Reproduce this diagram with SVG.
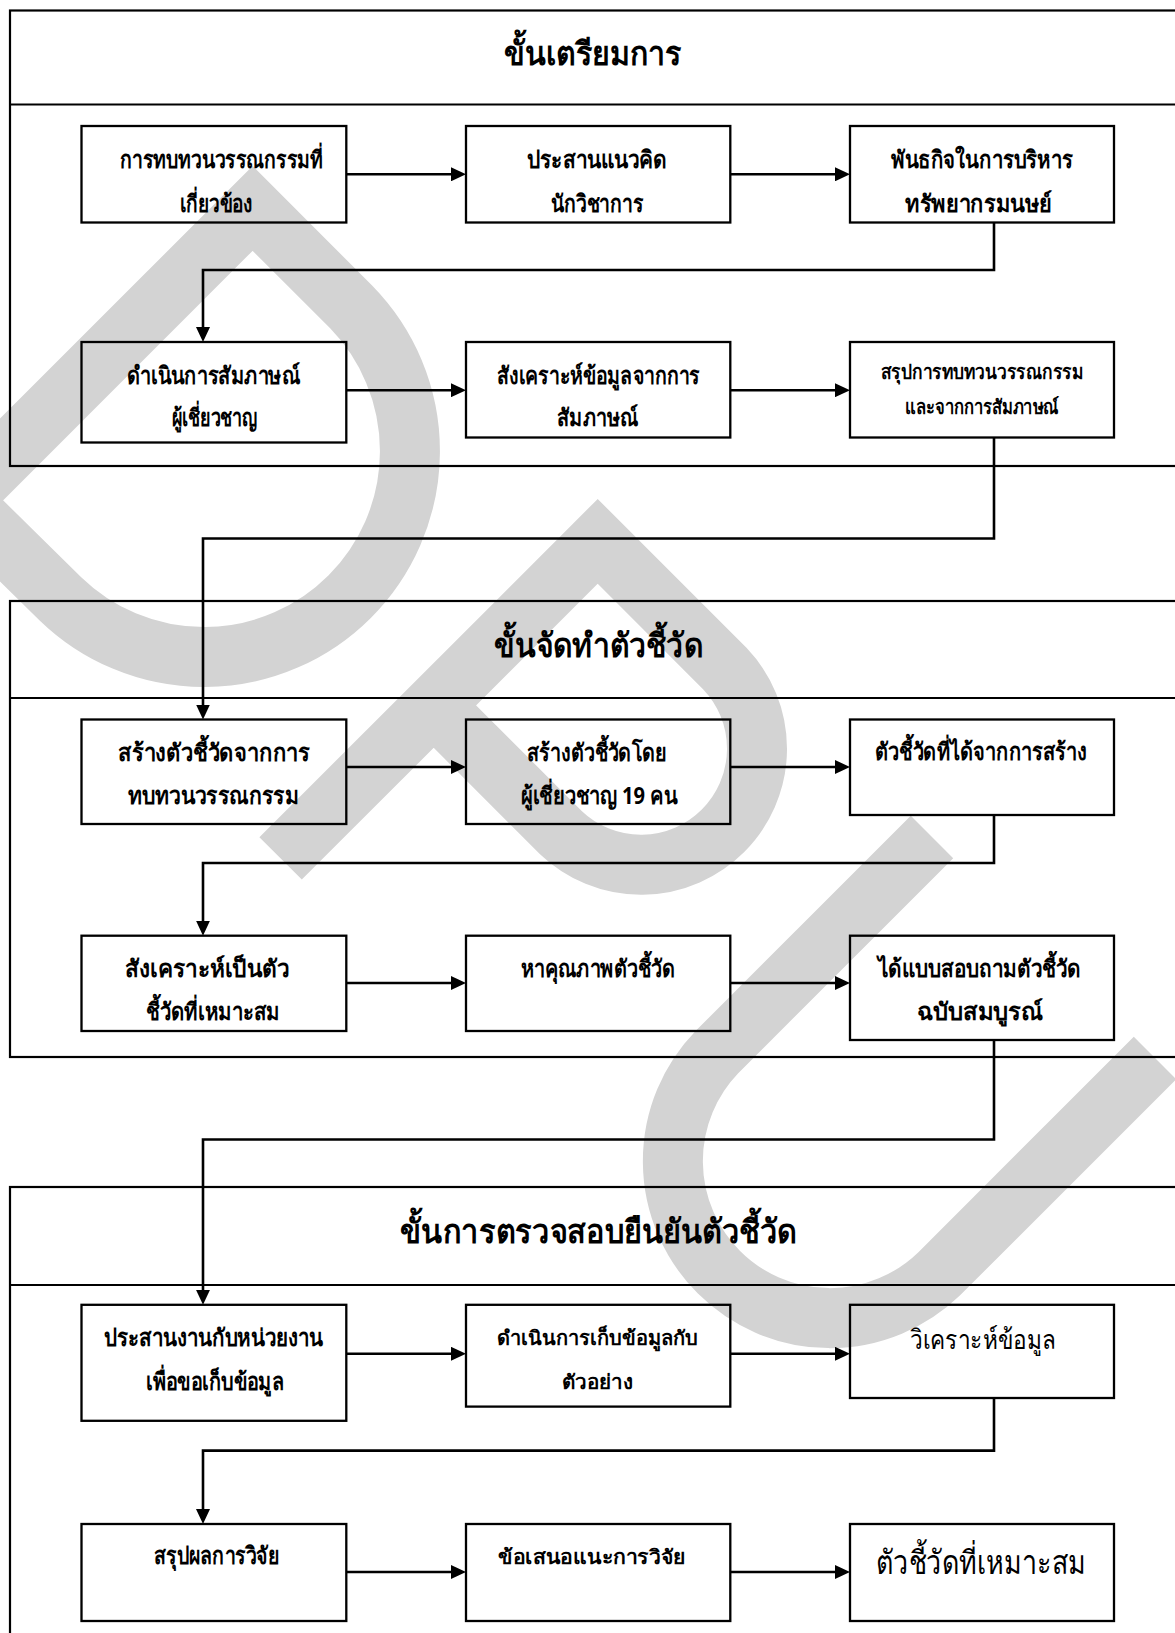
<svg xmlns="http://www.w3.org/2000/svg" width="1175" height="1633" viewBox="0 0 1175 1633">
<defs>
<style>
.wm{fill:none;stroke:#d3d3d3;stroke-width:60;stroke-linejoin:miter;stroke-miterlimit:10;stroke-linecap:butt}
.frame{fill:none;stroke:#000;stroke-width:2.2}
.box{fill:none;stroke:#000;stroke-width:2.3}
.conn{fill:none;stroke:#000;stroke-width:2.6}
.t{font-family:'Noto Sans','DejaVu Sans',sans-serif;font-weight:bold;font-size:24px;text-anchor:middle;fill:#000}
.s{font-size:20px}
.title{font-family:'Noto Sans','DejaVu Sans',sans-serif;font-weight:bold;font-size:33px;text-anchor:middle;fill:#000}
.r{font-family:'Noto Sans','DejaVu Sans',sans-serif;font-weight:normal;text-anchor:middle;fill:#000}
</style>
<marker id="ah" markerWidth="15" markerHeight="14" refX="1" refY="7" orient="auto" markerUnits="userSpaceOnUse"><path d="M0,0 L15,7 L0,14 Z" fill="#000"/></marker>
</defs>
<rect width="1175" height="1633" fill="#fff"/>
<g id="watermark">
<path class="wm" d="M -39.5 500.5 L 252.6 208.4 L 351.6 307.4 A 206 206 0 0 1 60.3 598.7 Z"/>
<path class="wm" d="M 280.6 858.4 L 597.7 541.4 L 725 668.7 A 116 116 0 0 1 561 832.7 L 433.7 705.4"/>
<path class="wm" d="M 932 837 L 717 1052 A 157 157 0 0 0 939 1274 L 1155 1058"/>
</g>
<g id="section1">
<rect class="frame" x="10" y="10.5" width="1185" height="455.5"/>
<line class="frame" x1="10" y1="104.5" x2="1195" y2="104.5"/>
<text class="title" x="593" y="65" textLength="178" lengthAdjust="spacingAndGlyphs">ขั้นเตรียมการ</text>
</g>
<g id="section2">
<rect class="frame" x="10" y="601" width="1185" height="456"/>
<line class="frame" x1="10" y1="698" x2="1195" y2="698"/>
<text class="title" x="598.5" y="657" textLength="209" lengthAdjust="spacingAndGlyphs">ขั้นจัดทำตัวชี้วัด</text>
</g>
<g id="section3">
<rect class="frame" x="10" y="1187" width="1185" height="470"/>
<line class="frame" x1="10" y1="1285" x2="1195" y2="1285"/>
<text class="title" x="598.5" y="1243" textLength="397" lengthAdjust="spacingAndGlyphs">ขั้นการตรวจสอบยืนยันตัวชี้วัด</text>
</g>
<g id="connectors">
<path class="conn" d="M346.3 174.3 H452" marker-end="url(#ah)"/>
<path class="conn" d="M730.3 174.3 H836" marker-end="url(#ah)"/>
<path class="conn" d="M994 222.5 V270 H203 V328" marker-end="url(#ah)"/>
<path class="conn" d="M346.3 390.2 H452" marker-end="url(#ah)"/>
<path class="conn" d="M730.3 390.2 H836" marker-end="url(#ah)"/>
<path class="conn" d="M994 437.5 V538.5 H203 V705.5" marker-end="url(#ah)"/>
<path class="conn" d="M346.3 767 H452" marker-end="url(#ah)"/>
<path class="conn" d="M730.3 767 H836" marker-end="url(#ah)"/>
<path class="conn" d="M994 815 V863 H203 V921.7" marker-end="url(#ah)"/>
<path class="conn" d="M346.3 983 H452" marker-end="url(#ah)"/>
<path class="conn" d="M730.3 983 H836" marker-end="url(#ah)"/>
<path class="conn" d="M994 1040 V1139.5 H203 V1290.8" marker-end="url(#ah)"/>
<path class="conn" d="M346.3 1353.8 H452" marker-end="url(#ah)"/>
<path class="conn" d="M730.3 1353.8 H836" marker-end="url(#ah)"/>
<path class="conn" d="M994 1398 V1450.6 H203 V1510" marker-end="url(#ah)"/>
<path class="conn" d="M346.3 1572 H452" marker-end="url(#ah)"/>
<path class="conn" d="M730.3 1572 H836" marker-end="url(#ah)"/>
</g>
<g id="n1">
<rect class="box" x="81.5" y="126" width="264.8" height="96.5"/>
<text class="t" x="221.5" y="168" textLength="203" lengthAdjust="spacingAndGlyphs">การทบทวนวรรณกรรมที่</text>
<text class="t" x="216.5" y="211.5" textLength="73" lengthAdjust="spacingAndGlyphs">เกี่ยวข้อง</text>
</g>
<g id="n2">
<rect class="box" x="466" y="126" width="264.3" height="96.5"/>
<text class="t" x="597" y="168" textLength="140" lengthAdjust="spacingAndGlyphs">ประสานแนวคิด</text>
<text class="t" x="597" y="211.5" textLength="92" lengthAdjust="spacingAndGlyphs">นักวิชาการ</text>
</g>
<g id="n3">
<rect class="box" x="850" y="126" width="264" height="96.5"/>
<text class="t" x="982" y="168" textLength="182" lengthAdjust="spacingAndGlyphs">พันธกิจในการบริหาร</text>
<text class="t" x="978.5" y="211.5" textLength="147" lengthAdjust="spacingAndGlyphs">ทรัพยากรมนษย์</text>
</g>
<g id="n4">
<rect class="box" x="81.5" y="342" width="264.8" height="100.5"/>
<text class="t" x="213.5" y="384" textLength="173" lengthAdjust="spacingAndGlyphs">ดำเนินการสัมภาษณ์</text>
<text class="t" x="214.5" y="426" textLength="85" lengthAdjust="spacingAndGlyphs">ผู้เชี่ยวชาญ</text>
</g>
<g id="n5">
<rect class="box" x="466" y="342" width="264.3" height="95.5"/>
<text class="t" x="598.5" y="384" textLength="203" lengthAdjust="spacingAndGlyphs">สังเคราะห์ข้อมูลจากการ</text>
<text class="t" x="597.5" y="426" textLength="81" lengthAdjust="spacingAndGlyphs">สัมภาษณ์</text>
</g>
<g id="n6">
<rect class="box" x="850" y="342" width="264" height="95.5"/>
<text class="t s" x="982" y="378.5" textLength="202" lengthAdjust="spacingAndGlyphs">สรุปการทบทวนวรรณกรรม</text>
<text class="t s" x="982" y="413.5" textLength="154" lengthAdjust="spacingAndGlyphs">และจากการสัมภาษณ์</text>
</g>
<g id="n7">
<rect class="box" x="81.5" y="719.5" width="264.8" height="104.5"/>
<text class="t" x="214" y="761" textLength="192" lengthAdjust="spacingAndGlyphs">สร้างตัวชี้วัดจากการ</text>
<text class="t" x="213.5" y="804" textLength="171" lengthAdjust="spacingAndGlyphs">ทบทวนวรรณกรรม</text>
</g>
<g id="n8">
<rect class="box" x="466" y="719.5" width="264.3" height="104.5"/>
<text class="t" x="597" y="761" textLength="140" lengthAdjust="spacingAndGlyphs">สร้างตัวชี้วัดโดย</text>
<text class="t" x="599" y="804" textLength="156" lengthAdjust="spacingAndGlyphs">ผู้เชี่ยวชาญ 19 คน</text>
</g>
<g id="n9">
<rect class="box" x="850" y="719.5" width="264" height="95.5"/>
<text class="t" x="981" y="760" textLength="212" lengthAdjust="spacingAndGlyphs">ตัวชี้วัดที่ได้จากการสร้าง</text>
</g>
<g id="n10">
<rect class="box" x="81.5" y="935.7" width="264.8" height="95.3"/>
<text class="t" x="207" y="977" textLength="164" lengthAdjust="spacingAndGlyphs">สังเคราะห์เป็นตัว</text>
<text class="t" x="213" y="1019.5" textLength="134" lengthAdjust="spacingAndGlyphs">ชี้วัดที่เหมาะสม</text>
</g>
<g id="n11">
<rect class="box" x="466" y="935.7" width="264.3" height="95.3"/>
<text class="t" x="598" y="977" textLength="154" lengthAdjust="spacingAndGlyphs">หาคุณภาพตัวชี้วัด</text>
</g>
<g id="n12">
<rect class="box" x="850" y="935.7" width="264" height="104.3"/>
<text class="t" x="979.5" y="977" textLength="203" lengthAdjust="spacingAndGlyphs">ได้แบบสอบถามตัวชี้วัด</text>
<text class="t" x="980" y="1019.5" textLength="126" lengthAdjust="spacingAndGlyphs">ฉบับสมบูรณ์</text>
</g>
<g id="n13">
<rect class="box" x="81.5" y="1304.8" width="264.8" height="116"/>
<text class="t" x="213.5" y="1346" textLength="219" lengthAdjust="spacingAndGlyphs">ประสานงานกับหน่วยงาน</text>
<text class="t" x="215" y="1389.5" textLength="138" lengthAdjust="spacingAndGlyphs">เพื่อขอเก็บข้อมูล</text>
</g>
<g id="n14">
<rect class="box" x="466" y="1304.8" width="264.3" height="101.8"/>
<text class="t s" x="597.5" y="1345" textLength="201" lengthAdjust="spacingAndGlyphs">ดำเนินการเก็บข้อมูลกับ</text>
<text class="t s" x="597.5" y="1388.5" textLength="71" lengthAdjust="spacingAndGlyphs">ตัวอย่าง</text>
</g>
<g id="n15">
<rect class="box" x="850" y="1304.8" width="264" height="93.2"/>
<text class="r" x="983" y="1349" font-size="27" textLength="146" lengthAdjust="spacingAndGlyphs">วิเคราะห์ข้อมูล</text>
</g>
<g id="n16">
<rect class="box" x="81.5" y="1524" width="264.8" height="97"/>
<text class="t" x="216.5" y="1564" textLength="125" lengthAdjust="spacingAndGlyphs">สรุปผลการวิจัย</text>
</g>
<g id="n17">
<rect class="box" x="466" y="1524" width="264.3" height="97"/>
<text class="t s" x="592" y="1564" textLength="188" lengthAdjust="spacingAndGlyphs">ข้อเสนอแนะการวิจัย</text>
</g>
<g id="n18">
<rect class="box" x="850" y="1524" width="264" height="97"/>
<text class="r" x="981" y="1574" font-size="33" textLength="210" lengthAdjust="spacingAndGlyphs">ตัวชี้วัดที่เหมาะสม</text>
</g>
</svg>
